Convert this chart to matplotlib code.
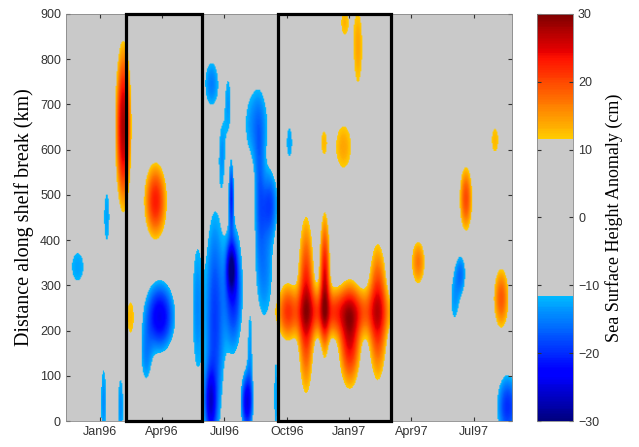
import numpy as np
import matplotlib.pyplot as plt
from matplotlib.colors import ListedColormap
from matplotlib.patches import Rectangle

# time axis in months counted from Jan 1996
month_ticks = [0, 3, 6, 9, 12, 15, 18]
month_labels = ['Jan96', 'Apr96', 'Jul96', 'Oct96', 'Jan97', 'Apr97', 'Jul97']
t_start, t_end = -1.64, 19.84
km_max = 900

# anomaly features:
# centre (month, km), visible half extent (months, km), peak anomaly (cm)
feat_month = [1.1, 2.65, 2.85, 2.2, -1.1, 0.15, 0.97, 0.3, 1.45,
              4.65, 5.5, 5.3, 6.4, 6.3, 7.05, 5.35, 6.15, 5.85, 6.3, 7.5, 7.65,
              8.15, 7.9, 8.45, 7.2,
              9.1,
              11.3, 9.9, 10.8, 12.0, 13.35, 9.0, 12.4, 11.75, 11.7, 10.75,
              15.3, 17.35, 17.05, 19.3, 17.6, 19.0, 19.6]
feat_km = [650, 485, 230, 140, 340, 40, 30, 450, 228,
           250, 220, 40, 290, 335, 40, 745, 700, 590, 495, 655, 510,
           480, 340, 50, 150,
           615,
           240, 255, 300, 185, 240, 240, 825, 880, 605, 615,
           350, 325, 265, 270, 490, 620, 30]
feat_half_t = [0.4, 0.55, 0.75, 0.2, 0.27, 0.12, 0.12, 0.12, 0.15,
               0.2, 0.45, 0.3, 0.45, 0.25, 0.3, 0.3, 0.1, 0.1, 0.12, 0.5, 0.15,
               0.35, 0.35, 0.08, 0.08,
               0.12,
               2.6, 0.4, 0.27, 0.55, 0.45, 0.35, 0.2, 0.15, 0.35, 0.1,
               0.3, 0.2, 0.15, 0.35, 0.3, 0.15, 0.5]
feat_half_d = [190, 85, 80, 45, 30, 70, 60, 50, 33,
               120, 240, 80, 140, 60, 70, 45, 45, 45, 75, 70, 90,
               60, 105, 70, 60,
               30,
               52, 195, 160, 115, 150, 55, 75, 25, 45, 20,
               45, 35, 35, 65, 70, 25, 70]
feat_peak = [28, 23, -24, -14, -13, -14, -14, -13, 13,
             -14, -19, -23, -21, -26, -24, -15, -13, -13, -20, -15, -14,
             -17, -15, -13, -13,
             -13,
             21, 24, 25, 25, 23, 17, 14, 13, 14, 12.5,
             17, -15, -13, 19, 20, 13, -20]

# periods outlined with black boxes
box_start = [1.25, 8.6]
box_end = [4.92, 14.0]

threshold = 11.5

# build the gridded anomaly field; overlapping features of one sign
# are merged with a quadratic sum so neighbouring streaks join up
t = np.linspace(t_start, t_end, 460)
d = np.linspace(0, km_max, 420)
T, D = np.meshgrid(t, d)
pos = np.zeros_like(T)
neg = np.zeros_like(T)
for m, k, ht, hd, a in zip(feat_month, feat_km, feat_half_t, feat_half_d, feat_peak):
    f = np.sqrt(2 * np.log(abs(a) / threshold))
    st, sd = ht / f, hd / f
    g = abs(a) * np.exp(-0.5 * (((T - m) / st) ** 2 + ((D - k) / sd) ** 2))
    if a > 0:
        pos += g ** 2
    else:
        neg += g ** 2
pos, neg = np.sqrt(pos), np.sqrt(neg)
ssha = np.clip(np.where(pos >= neg, pos, -neg), -30, 30)

# jet with the quiet band greyed out
levels = np.linspace(-30, 30, 241)
mid = 0.5 * (levels[:-1] + levels[1:])
jet = plt.get_cmap('jet')
colors = [jet((v + 30) / 60) if abs(v) >= threshold else (0.79, 0.79, 0.79, 1) for v in mid]
cmap = ListedColormap(colors)

fig = plt.figure(figsize=(6.39, 4.47), dpi=100)
ax = fig.add_axes([0.103, 0.058, 0.698, 0.911])
cax = fig.add_axes([0.840, 0.058, 0.057, 0.911])

im = ax.imshow(ssha, extent=[t_start, t_end, 0, km_max], origin='lower', aspect='auto',
               cmap=cmap, vmin=-30, vmax=30, interpolation='bilinear')

for s, e in zip(box_start, box_end):
    ax.add_patch(Rectangle((s, 0), e - s, km_max, fill=False, edgecolor='black',
                           linewidth=2.3, clip_on=False, zorder=5))

ax.set_xlim(t_start, t_end)
ax.set_ylim(0, km_max)
ax.set_xticks(month_ticks)
ax.set_xticklabels(month_labels)
ax.set_yticks(np.arange(0, 901, 100))
ax.tick_params(direction='in', length=3, labelsize=9, colors='#333333', top=True, right=True)
for sp in ax.spines.values():
    sp.set_color('#888888')
    sp.set_linewidth(0.6)
ax.set_ylabel('Distance along shelf break (km)', family='Liberation Serif', fontsize=14.5,
              labelpad=4)
for lab in ax.get_xticklabels() + ax.get_yticklabels():
    lab.set_family('Liberation Sans')

cb = fig.colorbar(im, cax=cax)
cb.set_ticks(np.arange(-30, 31, 10))
cb.ax.tick_params(direction='in', length=3, labelsize=9, colors='#333333', left=True, right=True)
cb.outline.set_edgecolor('#888888')
cb.outline.set_linewidth(0.6)
cb.set_label('Sea Surface Height Anomaly (cm)', family='Liberation Serif', fontsize=13,
             labelpad=4)
for lab in cb.ax.get_yticklabels():
    lab.set_family('Liberation Sans')

fig.savefig('out.png', dpi=100)
